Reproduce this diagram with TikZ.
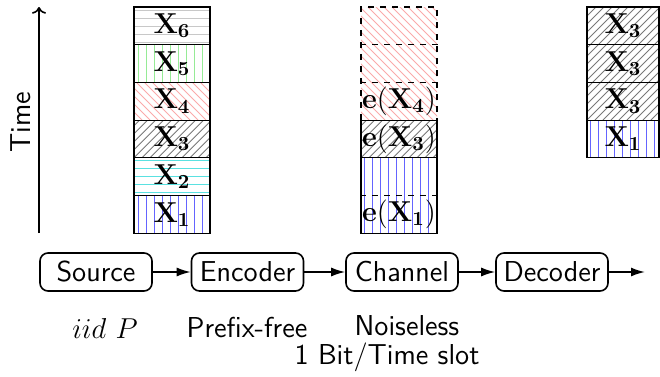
\documentclass[tikz,border=0pt]{standalone}
\usetikzlibrary{calc,arrows.meta}
% hatchings of a box given by two corners (x1,y1) (x2,y2), last argument the line colour
\newcommand\hatchV[5]{\begin{scope}\clip (#1,#2) rectangle (#3,#4);
  \foreach \s in {4.5,12.5,...,84} \draw[#5, line width=0.6pt] ({2*floor(#1/2)+\s},#2) -- ({2*floor(#1/2)+\s},#4);
  \end{scope}}
\newcommand\hatchH[5]{\begin{scope}\clip (#1,#2) rectangle (#3,#4);
  \foreach \s in {4.5,12.5,...,124} \draw[#5, line width=0.6pt] (#1,{2*floor(#2/2)+\s}) -- (#3,{2*floor(#2/2)+\s});
  \end{scope}}
\newcommand\hatchNE[5]{\begin{scope}\clip (#1,#2) rectangle (#3,#4);
  \foreach \s in {-240,-232,...,88} \draw[#5, line width=0.45pt] ({#1+\s},#4) -- ++(240,-240);
  \end{scope}}
\newcommand\hatchNW[5]{\begin{scope}\clip (#1,#2) rectangle (#3,#4);
  \foreach \s in {0,8,...,328} \draw[#5, line width=0.45pt] ({#1+\s},#4) -- ++(-240,-240);
  \end{scope}}
\begin{document}
\begin{tikzpicture}[x=0.5pt,y=-0.5pt,
  cell/.style={draw, line width=0.6pt, minimum width=38pt, minimum height=18.85pt,
    inner sep=0pt, font=\Large},
  block/.style={draw, rounded corners=4pt, line width=0.8pt, minimum width=56pt,
    minimum height=19pt, inner sep=0pt, font=\Large\sffamily},
  flow/.style={-{Latex[length=7pt,width=4.5pt]}, line width=0.8pt},
  lbl/.style={font=\Large, inner sep=0pt}]
\useasboundingbox (0,0) rectangle (660,376);
\definecolor{cX6}{RGB}{200,200,200}
\definecolor{cX5}{RGB}{150,235,150}
\definecolor{cX4}{RGB}{250,170,170}
\definecolor{cX3}{RGB}{120,120,120}
\definecolor{cX2}{RGB}{90,225,225}
\definecolor{cX1}{RGB}{100,100,255}

% hatchings (rows of 37.7px from the top at 7px)
\hatchH{134}{7}{210}{44.7}{cX6}
\hatchV{134}{44.7}{210}{82.4}{cX5}
\hatchNW{134}{82.4}{210}{120.1}{cX4}
\hatchNE{134}{120.1}{210}{157.8}{cX3}
\hatchH{134}{157.8}{210}{195.5}{cX2}
\hatchV{134}{195.5}{210}{233.2}{cX1}
\hatchNW{361}{7}{437}{120.1}{cX4}
\hatchNE{361}{120.1}{437}{157.8}{cX3}
\hatchV{361}{157.8}{437}{233.2}{cX1}
\hatchNE{587}{7}{659}{120.1}{cX3}
\hatchV{587}{120.1}{659}{157.8}{cX1}

% time axis
\coordinate (tlow) at (39,233);
\coordinate (thigh) at (39,7);
\draw[->, line width=0.8pt] (tlow) -- (thigh);
\node[font=\Large\sffamily, rotate=90] (time) at (21,122) {Time};

% source symbols
\node[cell] (s1) at (172,214.35) {$\mathbf{X_1}$};
\node[cell] (s2) at (172,176.65) {$\mathbf{X_2}$};
\node[cell] (s3) at (172,138.95) {$\mathbf{X_3}$};
\node[cell] (s4) at (172,101.25) {$\mathbf{X_4}$};
\node[cell] (s5) at (172,63.55) {$\mathbf{X_5}$};
\node[cell] (s6) at (172,25.85) {$\mathbf{X_6}$};

% encoded bits on the channel
\node[cell, dashed, minimum height=56.55pt] (e4) at (399,63.55) {};
\draw[dashed, line width=0.6pt] ($(e4.north west)!1/3!(e4.south west)$) -- ($(e4.north east)!1/3!(e4.south east)$);
\draw[dashed, line width=0.6pt] ($(e4.north west)!2/3!(e4.south west)$) -- ($(e4.north east)!2/3!(e4.south east)$);
\node[lbl] (e4l) at (399,101.25) {$\mathbf{e(X_4)}$};
\node[cell] (e3) at (399,138.95) {$\mathbf{e(X_3)}$};
\node[cell, minimum height=37.7pt] (e1) at (399,195.5) {};
\draw[dashed, line width=0.6pt] (e1.west) -- (e1.east);
\node[lbl] (e1l) at (399,214.35) {$\mathbf{e(X_1)}$};

% decoded symbols
\node[cell, minimum width=36pt] (d1) at (623,138.95) {$\mathbf{X_1}$};
\node[cell, minimum width=36pt] (d2) at (623,101.25) {$\mathbf{X_3}$};
\node[cell, minimum width=36pt] (d3) at (623,63.55) {$\mathbf{X_3}$};
\node[cell, minimum width=36pt] (d4) at (623,25.85) {$\mathbf{X_3}$};

% processing chain
\node[block] (src) at (96,272) {Source};
\node[block] (enc) at (247.5,272) {Encoder};
\node[block] (chn) at (402,272) {Channel};
\node[block] (dec) at (552,272) {Decoder};
\coordinate (sink) at (645,272);
\draw[flow] (src) -- (enc);
\draw[flow] (enc) -- (chn);
\draw[flow] (chn) -- (dec);
\draw[flow] (dec) -- (sink);

% annotations
\node[lbl] (srcl) at (105,328) {$iid\ P$};
\node[lbl, font=\Large\sffamily] (encl) at (247,328) {Prefix-free};
\node[lbl, font=\Large\sffamily] (chnl) at (407,326) {Noiseless};
\node[lbl, font=\Large\sffamily] (chnl2) at (387,357) {1 Bit/Time slot};
\end{tikzpicture}
\end{document}
